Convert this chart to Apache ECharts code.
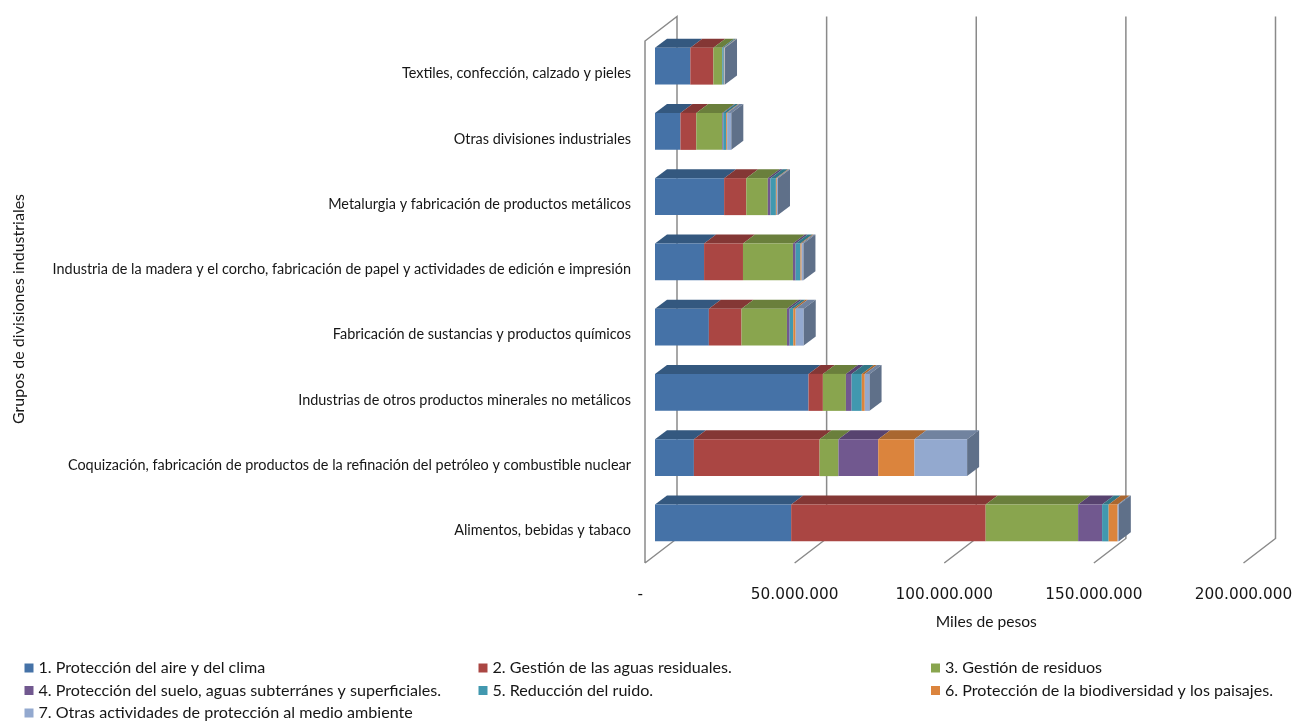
<!DOCTYPE html>
<html><head><meta charset="utf-8">
<style>html,body{margin:0;padding:0;background:#fff}#c{width:1296px;height:722px}</style>
<script src="https://cdn.jsdelivr.net/npm/echarts@6/dist/echarts.min.js"></script>
</head><body><div id="c"></div>
<script>
const categories = ["Alimentos, bebidas y tabaco","Coquización, fabricación de productos de la refinación del petróleo y combustible nuclear","Industrias de otros productos minerales no metálicos","Fabricación de sustancias y productos químicos","Industria de la madera y el corcho, fabricación de papel y actividades de edición e impresión","Metalurgia y fabricación de productos metálicos","Otras divisiones industriales","Textiles, confección, calzado y pieles"];
const tickValues = [0,50000000,100000000,150000000,200000000];
const seriesNames = ["1. Protección del aire y del clima","2. Gestión de las aguas residuales.","3. Gestión de residuos","4. Protección del suelo, aguas subterránes y superficiales.","5. Reducción del ruido.","6. Protección de la biodiversidad y los paisajes.","7. Otras actividades de protección al medio ambiente"];
const s1 = [45500000,13000000,51300000,18000000,16400000,23100000,8500000,11800000];
const s2 = [65000000,42000000,4800000,10900000,13000000,7400000,5300000,7700000];
const s3 = [30900000,6300000,7700000,15200000,16700000,7200000,8700000,2900000];
const s4 = [8000000,13300000,1900000,900000,900000,900000,300000,100000];
const s5 = [2200000,0,3400000,1200000,1600000,1800000,1000000,500000];
const s6 = [3000000,12100000,1000000,800000,400000,300000,300000,200000];
const s7 = [400000,17600000,1600000,2700000,600000,400000,1400000,200000];
const allSeries = [s1,s2,s3,s4,s5,s6,s7];
const frontColors = ["#4572A7","#AA4643","#89A54E","#71588F","#4198AF","#DB843D","#93A9CF"];
const topColors = ["#34587F","#843735","#6A7F3C","#57436F","#327686","#A96730","#71839F"];
const sideColor = "#5F7089";
const gridColor = "#8A8A8A";
const textColor = "#161616";
const FONT = "Lato";
const BAR_RATIO = 0.567, BAR_DX = 10, BAR_DY = -7.5, DEPTH_X = 12, DEPTH_Y = -9, WALL_X = 32, WALL_Y = -24.5;

function renderWall(params, api){
  const cs = params.coordSys, v = api.value(0);
  const floorY = cs.y + cs.height;
  const x = api.coord([v, 0])[0];
  const st = {stroke: gridColor, lineWidth: 1.5, fill: null};
  const pts = [[x, floorY],[x+WALL_X, floorY+WALL_Y],[x+WALL_X, cs.y+WALL_Y]];
  if (v === 0) { pts.push([x, cs.y]); pts.push([x, floorY]); }
  return {type:'polyline', shape:{points:pts}, style:st, silent:true};
}
function makeRender(idx){
  return function(params, api){
    const start = api.value(0), val = api.value(1), cat = api.value(2);
    if (!val) return null;
    const a = api.coord([start, cat]), b = api.coord([start+val, cat]);
    const h = api.size([0,1])[1] * BAR_RATIO;
    const x0 = a[0]+BAR_DX, x1 = b[0]+BAR_DX, y0 = a[1]+BAR_DY-h/2, y1 = y0+h;
    const children = [
      {type:'polygon', shape:{points:[[x0,y0],[x1,y0],[x1+DEPTH_X,y0+DEPTH_Y],[x0+DEPTH_X,y0+DEPTH_Y]]}, style:{fill:topColors[idx]}},
      {type:'rect', shape:{x:x0,y:y0,width:x1-x0,height:h}, style:{fill:frontColors[idx]}}
    ];
    if (idx === allSeries.length-1) children.push({type:'polygon', shape:{points:[[x1,y0],[x1+DEPTH_X,y0+DEPTH_Y],[x1+DEPTH_X,y1+DEPTH_Y],[x1,y1]]}, style:{fill:sideColor}});
    return {type:'group', children};
  };
}
const cumulative = categories.map(()=>0);
const barSeries = allSeries.map((vals, idx)=>{
  const data = vals.map((v,c)=>{const d=[cumulative[c], v, c]; cumulative[c]+=v; return d;});
  return {type:'custom', name:seriesNames[idx], renderItem:makeRender(idx), data, z:5,
    encode:{x:[0,1], y:2}, itemStyle:{color:frontColors[idx]}, clip:false};
});
function fmt(v){ return v===0 ? '-  ' : String(v).replace(/\B(?=(\d{3})+$)/g,'.'); }
const legendBase = {orient:'vertical', icon:'rect', itemWidth:9, itemHeight:9, itemGap:6.5, height:72,
  textStyle:{fontFamily:FONT, fontSize:16.1, lineHeight:16, color:textColor}, top:655};
const chart = echarts.init(document.getElementById('c'), null, {renderer:'canvas'});
chart.setOption({
  animation:false, backgroundColor:'#fff',
  grid:{left:645, top:41, width:598.5, height:522, containLabel:false},
  legend:[
    Object.assign({}, legendBase, {left:19.5, width:440, data:[seriesNames[0],seriesNames[3],seriesNames[6]]}),
    Object.assign({}, legendBase, {left:473.5, width:440, data:[seriesNames[1],seriesNames[4]]}),
    Object.assign({}, legendBase, {left:926, width:365, data:[seriesNames[2],seriesNames[5]]})
  ],
  xAxis:{type:'value', min:0, max:200000000, interval:50000000,
    name:'Miles de pesos', nameLocation:'middle', nameGap:51,
    nameTextStyle:{fontFamily:FONT, fontSize:15.6, color:textColor, padding:[0,0,0,84]},
    axisLine:{show:false}, axisTick:{show:false}, splitLine:{show:false},
    axisLabel:{formatter:fmt, margin:25, fontFamily:'DejaVu Sans', fontSize:15.3, color:textColor, hideOverlap:false, showMinLabel:true, showMaxLabel:true}},
  yAxis:{type:'category', data:categories,
    name:'Grupos de divisiones industriales', nameLocation:'middle', nameRotate:90, nameGap:618,
    nameTextStyle:{fontFamily:FONT, fontSize:16, color:textColor, padding:[0,14,0,0]},
    axisLine:{show:false}, axisTick:{show:false}, splitLine:{show:false},
    axisLabel:{interval:0, margin:14, fontFamily:FONT, fontSize:14.45, color:textColor, padding:[3,0,0,0]}},
  series:[{type:'custom', name:'walls', renderItem:renderWall, data:tickValues.map(v=>[v,0]), z:1, encode:{x:0,y:1}, clip:false, silent:true}].concat(barSeries)
});
</script></body></html>
